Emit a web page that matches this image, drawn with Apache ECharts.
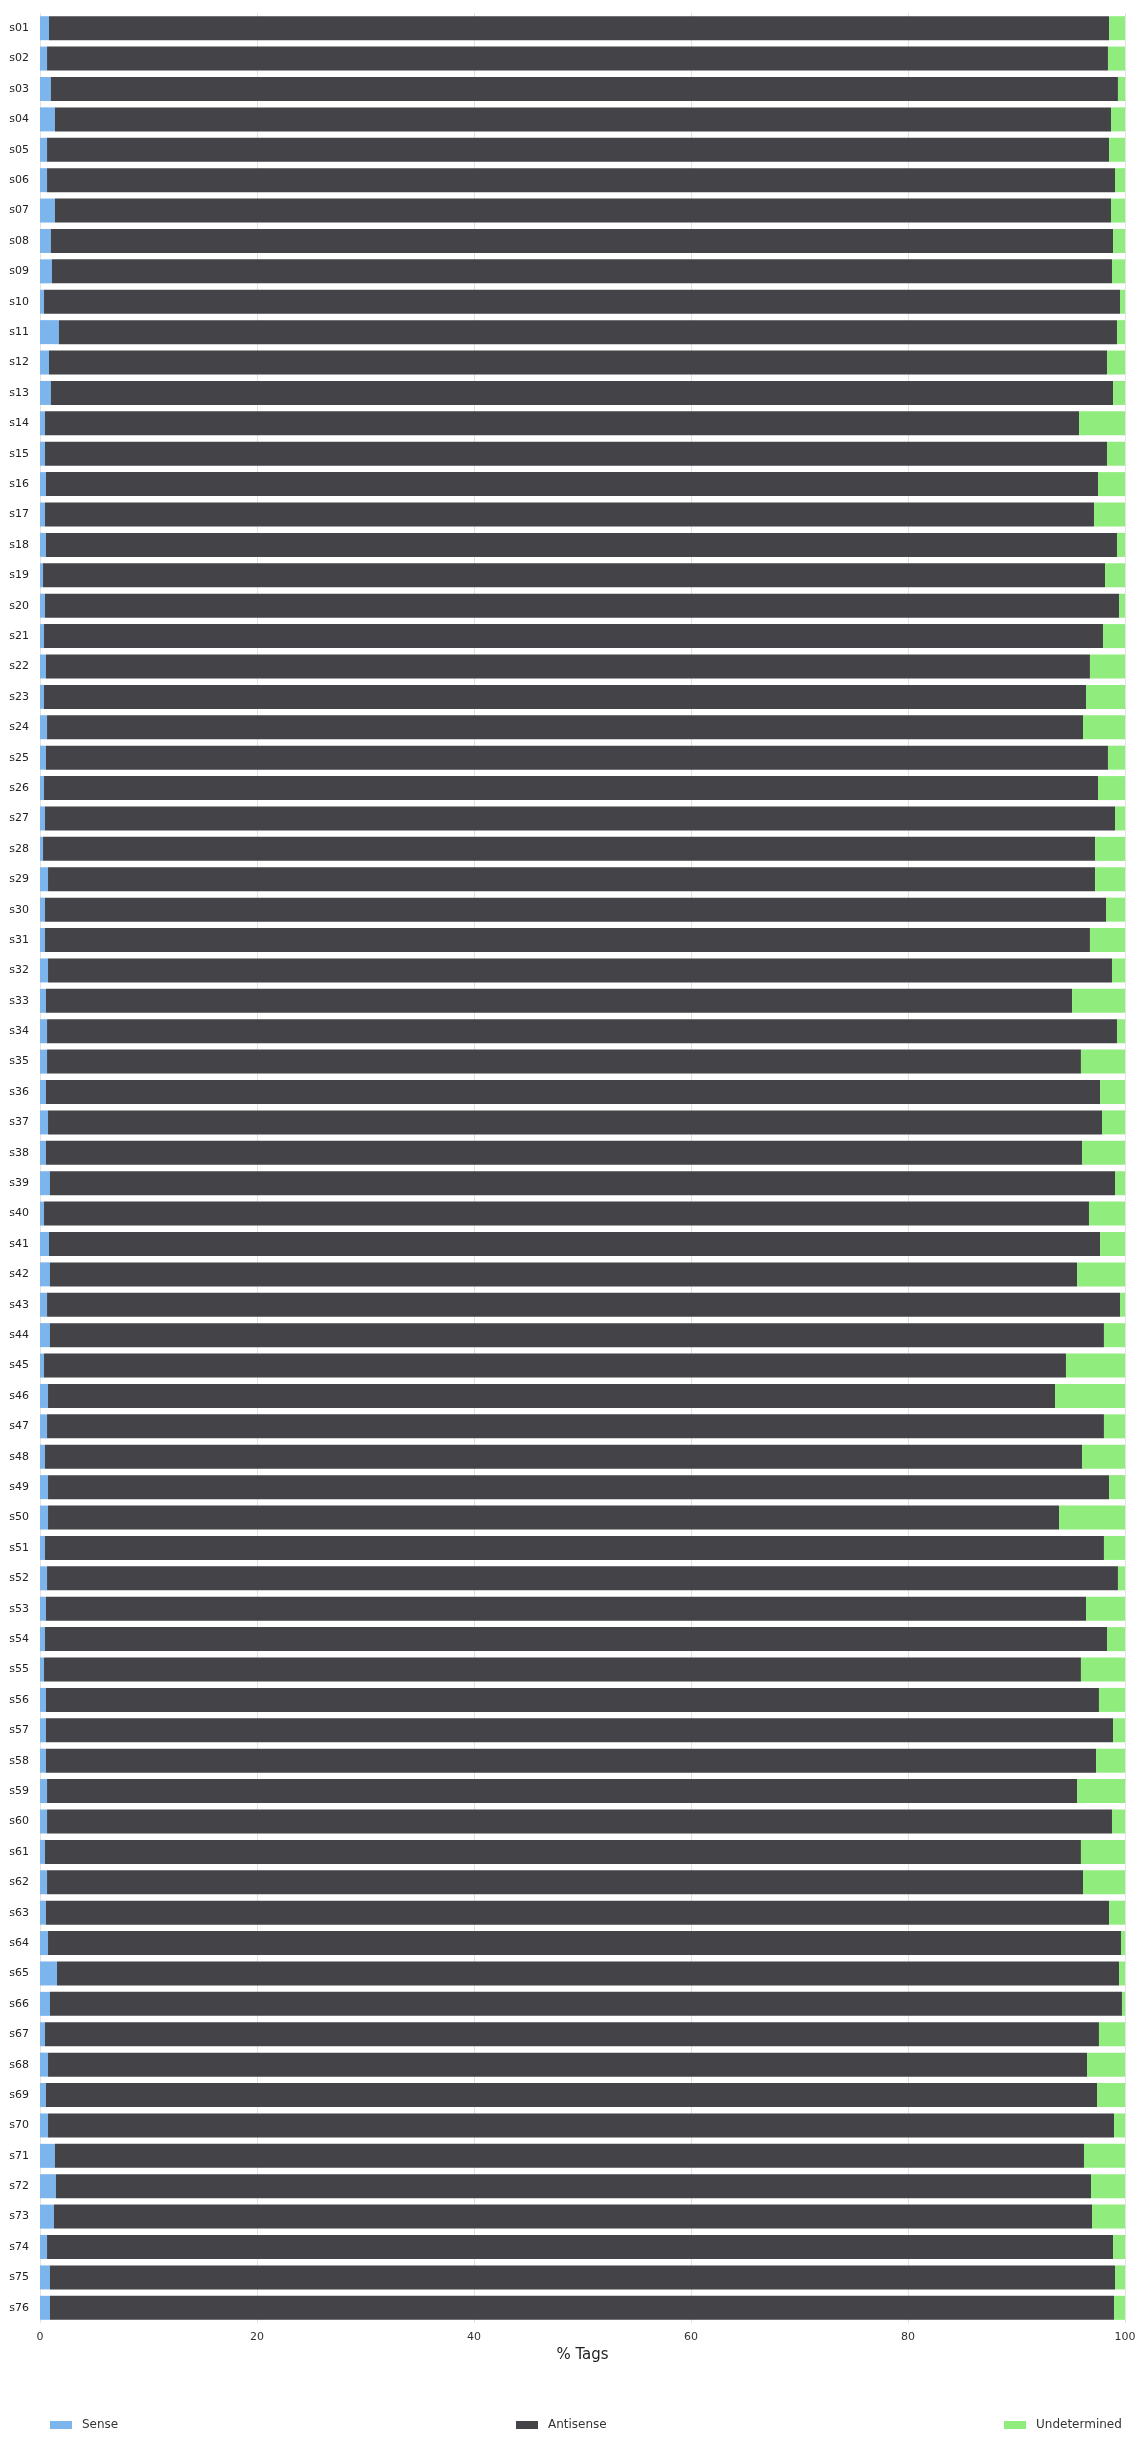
<!DOCTYPE html>
<html>
<head>
<meta charset="utf-8">
<style>
  html, body { margin: 0; padding: 0; background: #ffffff; }
  #chart { width: 1145px; height: 2443px; }
</style>
<script src="https://cdn.jsdelivr.net/npm/echarts@6/dist/echarts.min.js"></script>
</head>
<body>
<div id="chart"></div>
<script>
const categories = ['s01','s02','s03','s04','s05','s06','s07','s08','s09','s10',
  's11','s12','s13','s14','s15','s16','s17','s18','s19','s20',
  's21','s22','s23','s24','s25','s26','s27','s28','s29','s30',
  's31','s32','s33','s34','s35','s36','s37','s38','s39','s40',
  's41','s42','s43','s44','s45','s46','s47','s48','s49','s50',
  's51','s52','s53','s54','s55','s56','s57','s58','s59','s60',
  's61','s62','s63','s64','s65','s66','s67','s68','s69','s70',
  's71','s72','s73','s74','s75','s76'];

const sense = [0.83,0.65,1.0,1.38,0.65,0.65,1.38,1.0,1.1,0.37,
  1.75,0.83,1.0,0.46,0.46,0.55,0.46,0.55,0.28,0.46,
  0.37,0.55,0.37,0.65,0.55,0.37,0.46,0.28,0.74,0.46,
  0.46,0.74,0.55,0.65,0.65,0.55,0.74,0.55,0.92,0.37,
  0.83,0.92,0.65,0.92,0.37,0.74,0.65,0.46,0.74,0.74,
  0.46,0.65,0.55,0.46,0.37,0.55,0.55,0.55,0.65,0.65,
  0.46,0.65,0.55,0.74,1.57,0.92,0.46,0.74,0.55,0.74,
  1.38,1.47,1.29,0.65,0.92,0.92];

const antisense = [97.70,97.78,98.35,97.33,97.88,98.43,97.33,97.90,97.70,99.17,
  97.51,97.51,97.90,95.30,97.88,96.96,96.68,98.71,97.88,98.99,
  97.60,96.22,96.04,95.48,97.88,97.14,98.62,96.96,96.50,97.79,
  96.31,98.06,94.57,98.61,95.29,97.15,97.14,95.49,98.16,96.31,
  96.87,94.66,98.89,97.14,94.19,92.81,97.41,95.58,97.79,93.18,
  97.60,98.70,95.86,97.88,95.57,97.05,98.35,96.78,94.93,98.15,
  95.48,95.48,97.98,98.89,97.88,98.80,97.14,95.76,96.87,98.25,
  94.84,95.40,95.67,98.25,98.16,98.07];

const undetermined = [1.47,1.57,0.65,1.29,1.47,0.92,1.29,1.1,1.2,0.46,
  0.74,1.66,1.1,4.24,1.66,2.49,2.86,0.74,1.84,0.55,
  2.03,3.23,3.59,3.87,1.57,2.49,0.92,2.76,2.76,1.75,
  3.23,1.2,4.88,0.74,4.06,2.3,2.12,3.96,0.92,3.32,
  2.3,4.42,0.46,1.94,5.44,6.45,1.94,3.96,1.47,6.08,
  1.94,0.65,3.59,1.66,4.06,2.4,1.1,2.67,4.42,1.2,
  4.06,3.87,1.47,0.37,0.55,0.28,2.4,3.5,2.58,1.01,
  3.78,3.13,3.04,1.1,0.92,1.01];

const xTicks = [0, 20, 40, 60, 80, 100];

const FONT = 'DejaVu Sans';
const chart = echarts.init(document.getElementById('chart'), null, { renderer: 'canvas' });

const legendCommon = {
  orient: 'horizontal',
  top: 2419,
  itemWidth: 22,
  itemHeight: 8,
  padding: 0,
  icon: 'rect',
  textStyle: { fontFamily: FONT, fontSize: 12, color: '#333333', padding: [0, 0, 0, 5] }
};

chart.setOption({
  animation: false,
  textStyle: { fontFamily: FONT },
  color: ['#7cb5ec', '#434348', '#90ed7d'],
  legend: [
    Object.assign({}, legendCommon, { left: 50, data: ['Sense'] }),
    Object.assign({}, legendCommon, { left: 516, data: ['Antisense'] }),
    Object.assign({}, legendCommon, { left: 1004, data: ['Undetermined'] })
  ],
  grid: { left: 40, right: 20, top: 13, bottom: 120, containLabel: false },
  xAxis: {
    type: 'value',
    min: xTicks[0],
    max: xTicks[xTicks.length - 1],
    interval: xTicks[1] - xTicks[0],
    name: '% Tags',
    nameLocation: 'middle',
    nameGap: 25,
    nameTextStyle: { fontFamily: FONT, fontSize: 15, color: '#222222' },
    axisLine: { show: false },
    axisTick: { show: false },
    axisLabel: { fontFamily: FONT, fontSize: 11, color: '#333333', margin: 9 },
    splitLine: { show: true, lineStyle: { color: '#e3e3e3', width: 1 } }
  },
  yAxis: {
    type: 'category',
    data: categories,
    inverse: true,
    axisLine: { show: false },
    axisTick: { show: false },
    axisLabel: { fontFamily: FONT, fontSize: 11, color: '#222222', margin: 11 },
    splitLine: { show: false }
  },
  series: [
    { name: 'Sense', type: 'bar', stack: 'total', data: sense, barWidth: 24,
      itemStyle: { color: '#7cb5ec' } },
    { name: 'Antisense', type: 'bar', stack: 'total', data: antisense, barWidth: 24,
      itemStyle: { color: '#434348' } },
    { name: 'Undetermined', type: 'bar', stack: 'total', data: undetermined, barWidth: 24,
      itemStyle: { color: '#90ed7d' } }
  ]
});
</script>
</body>
</html>
